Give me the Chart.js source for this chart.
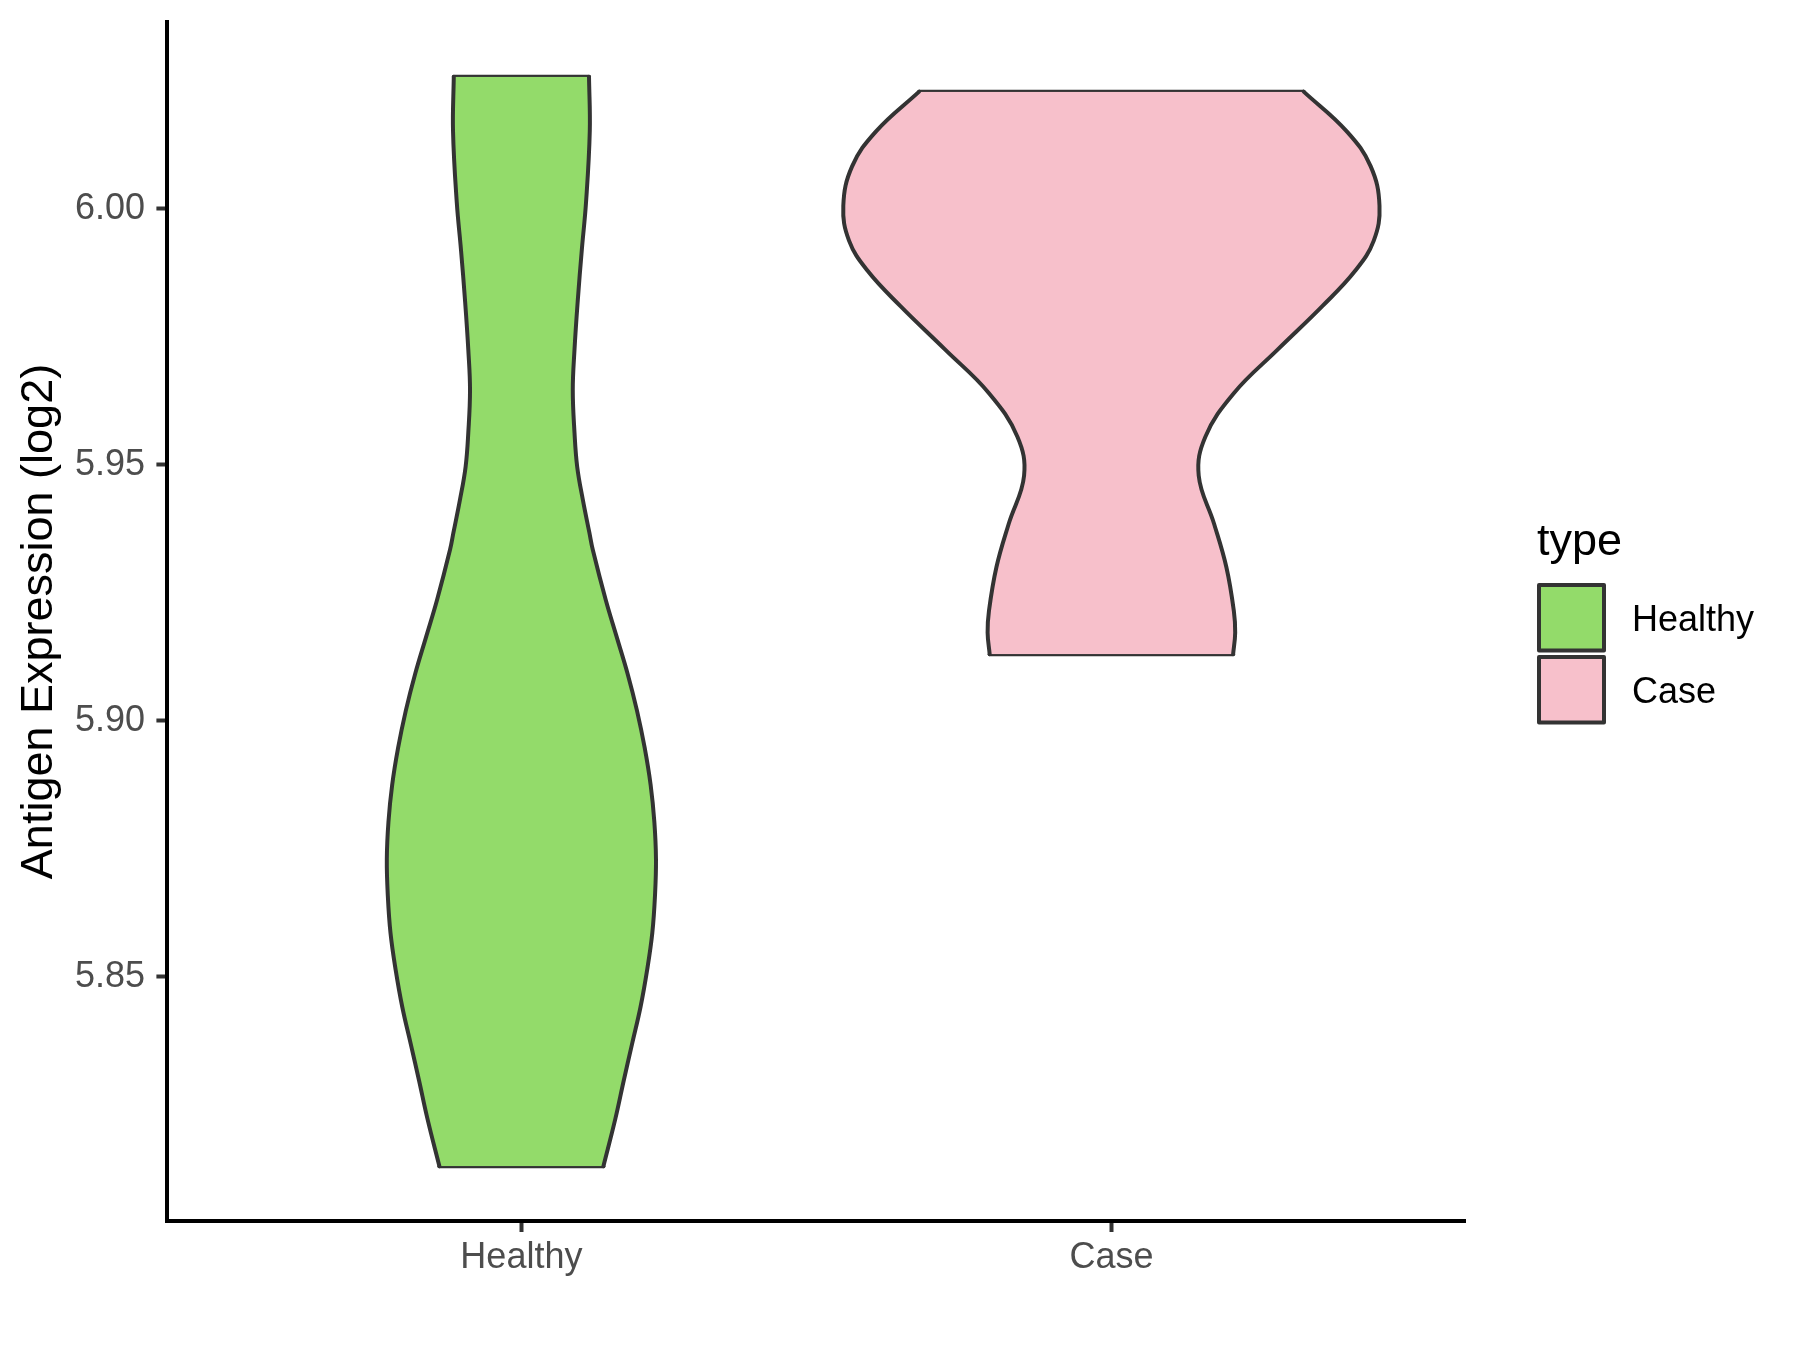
<!DOCTYPE html>
<html>
<head>
<meta charset="utf-8">
<script src="https://cdn.jsdelivr.net/npm/chart.js@4.4.1/dist/chart.umd.min.js"></script>
<style>
  html, body { margin: 0; padding: 0; background: #ffffff; }
  canvas { display: block; }
</style>
</head>
<body>
<canvas id="chart" width="1800" height="1350"></canvas>
<script>
// groups on the x axis (and in the legend)
const groups = ['Healthy', 'Case'];
const groupColors = ['#93DB6A', '#F7C0CB'];

// y axis
const yTicks = [5.85, 5.90, 5.95, 6.00];
const yMin = 5.8023;
const yMax = 6.0365;

// violin outlines: level + half width (in category units)
const healthyLevels = [5.8130, 5.8223, 5.8297, 5.8369, 5.8441, 5.8514, 5.8586, 5.8658, 5.8730,
  5.8803, 5.8875, 5.8947, 5.9020, 5.9092, 5.9164, 5.9236, 5.9334, 5.9367, 5.9432, 5.9496,
  5.9563, 5.9646, 5.9725, 5.9822, 5.9920, 6.0012, 6.0152, 6.0258];
const healthyHalfWidths = [0.1390, 0.1593, 0.1734, 0.1876, 0.2019, 0.2132, 0.2219, 0.2264, 0.2281,
  0.2253, 0.2190, 0.2090, 0.1959, 0.1800, 0.1615, 0.1430, 0.1210, 0.1153, 0.1041, 0.0946,
  0.0900, 0.0871, 0.0900, 0.0956, 0.1024, 0.1095, 0.1159, 0.1146];

const caseLevels = [5.9130, 5.9172, 5.9215, 5.9300, 5.9385, 5.9479, 5.9555, 5.9640, 5.9725,
  5.9810, 5.9879, 5.9938, 6.0006, 6.0083, 6.0151, 6.0229];
const caseHalfWidths = [0.2063, 0.2098, 0.2075, 0.1949, 0.1740, 0.1480, 0.1593, 0.2075, 0.2817,
  0.3575, 0.4132, 0.4447, 0.4544, 0.4395, 0.3993, 0.3259];

const FONT = '"Liberation Sans", Arial, Helvetica, sans-serif';

// line settings shared by every outline piece
const edge = {
  showLine: true,
  indexAxis: 'y',
  borderColor: '#333333',
  borderWidth: 4,
  borderCapStyle: 'round',
  borderJoinStyle: 'round',
  pointRadius: 0,
  pointHoverRadius: 0,
  cubicInterpolationMode: 'default',
  tension: 0.4
};

// left side, right side (filled against the left), flat bottom and top
function violin(pos, levels, halfWidths, color) {
  let left = levels.map((v, i) => ({ x: pos - halfWidths[i], y: v }));
  let right = levels.map((v, i) => ({ x: pos + halfWidths[i], y: v }));
  let n = levels.length - 1;
  return [
    { ...edge, data: left, fill: false },
    { ...edge, data: right, fill: '-1', backgroundColor: color },
    { ...edge, data: [left[0], right[0]], fill: false, tension: 0 },
    { ...edge, data: [left[n], right[n]], fill: false, tension: 0 }
  ];
}

let datasets = [
  ...violin(1, healthyLevels, healthyHalfWidths, groupColors[0]),
  ...violin(2, caseLevels, caseHalfWidths, groupColors[1])
];

// ggplot style legend on the right
const typeLegend = {
  id: 'typeLegend',
  afterDraw(chart) {
    let ctx = chart.ctx;
    ctx.save();
    ctx.fillStyle = '#000000';
    ctx.textAlign = 'left';
    ctx.textBaseline = 'alphabetic';
    ctx.font = '45px ' + FONT;
    ctx.fillText('type', 1537, 555);
    groups.forEach((g, i) => {
      let top = 585 + i * 72;
      ctx.fillStyle = groupColors[i];
      ctx.fillRect(1539, top, 65, 65.5);
      ctx.strokeStyle = '#333333';
      ctx.lineWidth = 4;
      ctx.lineJoin = 'round';
      ctx.strokeRect(1539, top, 65, 65.5);
      ctx.fillStyle = '#000000';
      ctx.font = '36px ' + FONT;
      ctx.textBaseline = 'alphabetic';
      ctx.fillText(g, 1632, top + 46);
    });
    ctx.restore();
  }
};

new Chart(document.getElementById('chart'), {
  type: 'scatter',
  data: { datasets: datasets },
  plugins: [typeLegend],
  options: {
    responsive: false,
    animation: false,
    indexAxis: 'y',
    layout: { padding: { left: 0, top: 22, right: 334.6, bottom: 0 } },
    plugins: {
      legend: { display: false },
      tooltip: { enabled: false },
      filler: { propagate: false }
    },
    scales: {
      x: {
        type: 'linear',
        min: 0.4,
        max: 2.6,
        afterBuildTicks: s => { s.ticks = groups.map((g, i) => ({ value: i + 1 })); },
        afterFit: s => { s.height = 129; s.paddingLeft = 0; s.paddingRight = 0; },
        grid: { display: true, drawOnChartArea: false, drawTicks: true, tickLength: 11, tickColor: '#333333', tickWidth: 4 },
        border: { display: true, color: '#000000', width: 4 },
        ticks: {
          autoSkip: false,
          maxRotation: 0,
          padding: 4.5,
          color: '#4D4D4D',
          font: { family: FONT, size: 36 },
          callback: v => groups[Math.round(v) - 1]
        }
      },
      y: {
        type: 'linear',
        min: yMin,
        max: yMax,
        afterBuildTicks: s => { s.ticks = yTicks.map(v => ({ value: v })); },
        afterFit: s => { s.width = 167.4; s.paddingTop = 0; s.paddingBottom = 0; },
        grid: { display: true, drawOnChartArea: false, drawTicks: true, tickLength: 11, tickColor: '#333333', tickWidth: 4 },
        border: { display: true, color: '#000000', width: 4 },
        ticks: {
          autoSkip: false,
          padding: 11.4,
          color: '#4D4D4D',
          font: { family: FONT, size: 36 },
          callback: v => v.toFixed(2)
        },
        title: {
          display: true,
          text: 'Antigen Expression (log2)',
          color: '#000000',
          font: { family: FONT, size: 45 },
          padding: { top: 13, bottom: 0 }
        }
      }
    }
  }
});
</script>
</body>
</html>
